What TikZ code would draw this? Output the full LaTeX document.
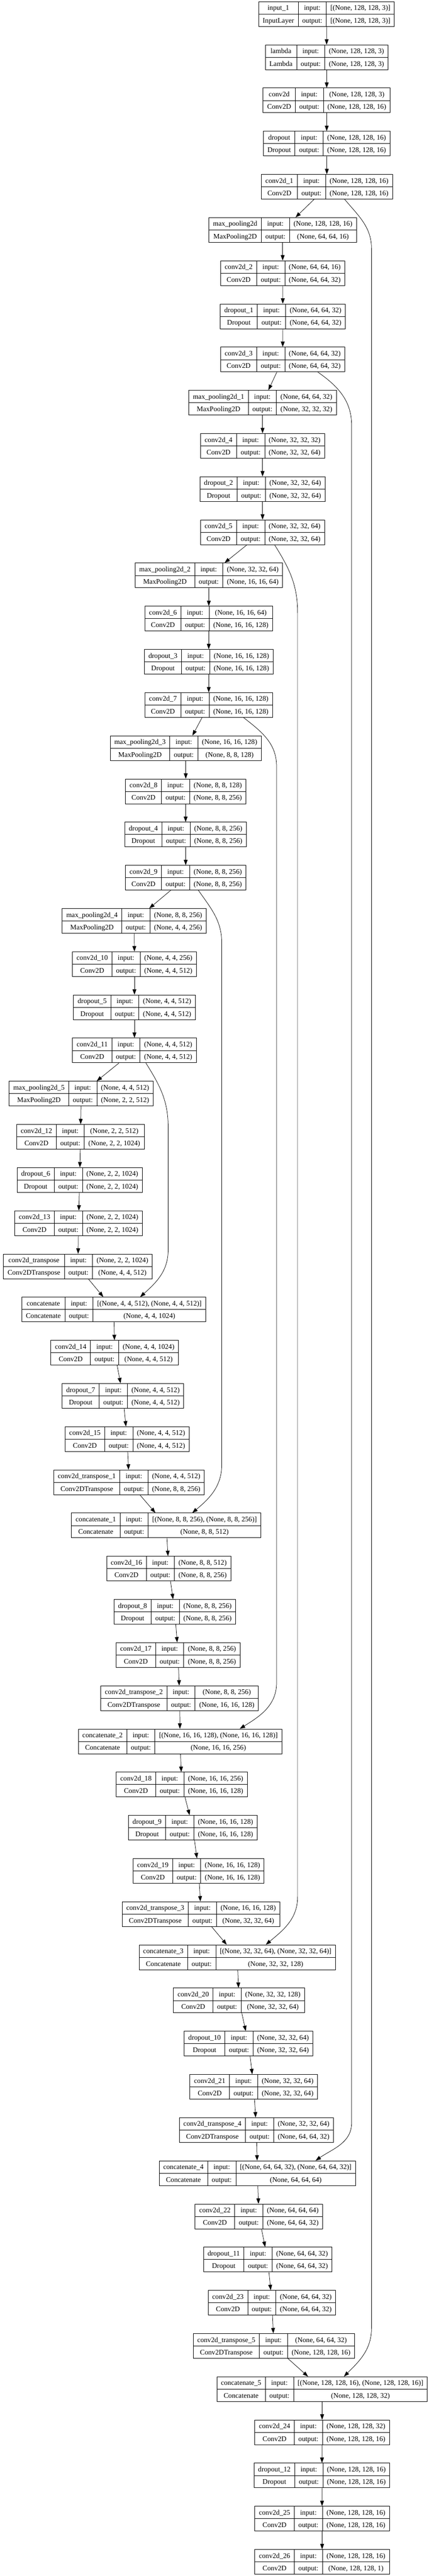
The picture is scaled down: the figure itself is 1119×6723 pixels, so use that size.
\documentclass[tikz,border=0pt]{standalone}
\usepackage{fontspec}
\setmainfont{Liberation Serif}
\usetikzlibrary{arrows.meta}
\setlength{\tabcolsep}{10.7pt}
\setlength{\arrayrulewidth}{1pt}
\newcommand{\lyr}[4]{\begin{tabular}{c|c|c}#1 & input: & #3\\\hline #2 & output: & #4\end{tabular}}

\begin{document}
\begin{tikzpicture}[x=1pt, y=1pt,
    layer/.style = {draw, line width=1.3pt, inner sep=0pt,
      font=\fontsize{18.4}{31.75}\selectfont},
    flow/.style  = {-{Triangle[length=14pt,width=10pt]}, line width=1pt}]
  \useasboundingbox (0,0) rectangle (1119,-6723);

  % encoder
  \node[layer] (in1)  at (852.5,{-36.75-112.7*0})  {\lyr{input\_1}{InputLayer}{[(None, 128, 128, 3)]}{[(None, 128, 128, 3)]}};
  \node[layer] (lam)  at (853,{-36.75-112.7*1})    {\lyr{lambda}{Lambda}{(None, 128, 128, 3)}{(None, 128, 128, 3)}};
  \node[layer] (c0)   at (853,{-36.75-112.7*2})    {\lyr{conv2d}{Conv2D}{(None, 128, 128, 3)}{(None, 128, 128, 16)}};
  \node[layer] (d0)   at (853,{-36.75-112.7*3})    {\lyr{dropout}{Dropout}{(None, 128, 128, 16)}{(None, 128, 128, 16)}};
  \node[layer] (c1)   at (853.5,{-36.75-112.7*4})  {\lyr{conv2d\_1}{Conv2D}{(None, 128, 128, 16)}{(None, 128, 128, 16)}};
  \node[layer] (mp0)  at (738,{-36.75-112.7*5})    {\lyr{max\_pooling2d}{MaxPooling2D}{(None, 128, 128, 16)}{(None, 64, 64, 16)}};
  \node[layer] (c2)   at (738,{-36.75-112.7*6})    {\lyr{conv2d\_2}{Conv2D}{(None, 64, 64, 16)}{(None, 64, 64, 32)}};
  \node[layer] (d1)   at (738.5,{-36.75-112.7*7})  {\lyr{dropout\_1}{Dropout}{(None, 64, 64, 32)}{(None, 64, 64, 32)}};
  \node[layer] (c3)   at (738,{-36.75-112.7*8})    {\lyr{conv2d\_3}{Conv2D}{(None, 64, 64, 32)}{(None, 64, 64, 32)}};
  \node[layer] (mp1)  at (685.5,{-36.75-112.7*9})  {\lyr{max\_pooling2d\_1}{MaxPooling2D}{(None, 64, 64, 32)}{(None, 32, 32, 32)}};
  \node[layer] (c4)   at (685.5,{-36.75-112.7*10}) {\lyr{conv2d\_4}{Conv2D}{(None, 32, 32, 32)}{(None, 32, 32, 64)}};
  \node[layer] (d2)   at (685.5,{-36.75-112.7*11}) {\lyr{dropout\_2}{Dropout}{(None, 32, 32, 64)}{(None, 32, 32, 64)}};
  \node[layer] (c5)   at (685.5,{-36.75-112.7*12}) {\lyr{conv2d\_5}{Conv2D}{(None, 32, 32, 64)}{(None, 32, 32, 64)}};
  \node[layer] (mp2)  at (545.5,{-36.75-112.7*13}) {\lyr{max\_pooling2d\_2}{MaxPooling2D}{(None, 32, 32, 64)}{(None, 16, 16, 64)}};
  \node[layer] (c6)   at (545,{-36.75-112.7*14})   {\lyr{conv2d\_6}{Conv2D}{(None, 16, 16, 64)}{(None, 16, 16, 128)}};
  \node[layer] (d3)   at (545,{-36.75-112.7*15})   {\lyr{dropout\_3}{Dropout}{(None, 16, 16, 128)}{(None, 16, 16, 128)}};
  \node[layer] (c7)   at (545,{-36.75-112.7*16})   {\lyr{conv2d\_7}{Conv2D}{(None, 16, 16, 128)}{(None, 16, 16, 128)}};
  \node[layer] (mp3)  at (485,{-36.75-112.7*17})   {\lyr{max\_pooling2d\_3}{MaxPooling2D}{(None, 16, 16, 128)}{(None, 8, 8, 128)}};
  \node[layer] (c8)   at (485,{-36.75-112.7*18})   {\lyr{conv2d\_8}{Conv2D}{(None, 8, 8, 128)}{(None, 8, 8, 256)}};
  \node[layer] (d4)   at (484.5,{-36.75-112.7*19}) {\lyr{dropout\_4}{Dropout}{(None, 8, 8, 256)}{(None, 8, 8, 256)}};
  \node[layer] (c9)   at (485,{-36.75-112.7*20})   {\lyr{conv2d\_9}{Conv2D}{(None, 8, 8, 256)}{(None, 8, 8, 256)}};
  \node[layer] (mp4)  at (350.5,{-36.75-112.7*21}) {\lyr{max\_pooling2d\_4}{MaxPooling2D}{(None, 8, 8, 256)}{(None, 4, 4, 256)}};
  \node[layer] (c10)  at (351,{-36.75-112.7*22})   {\lyr{conv2d\_10}{Conv2D}{(None, 4, 4, 256)}{(None, 4, 4, 512)}};
  \node[layer] (d5)   at (351,{-36.75-112.7*23})   {\lyr{dropout\_5}{Dropout}{(None, 4, 4, 512)}{(None, 4, 4, 512)}};
  \node[layer] (c11)  at (351,{-36.75-112.7*24})   {\lyr{conv2d\_11}{Conv2D}{(None, 4, 4, 512)}{(None, 4, 4, 512)}};
  \node[layer] (mp5)  at (212,{-36.75-112.7*25})   {\lyr{max\_pooling2d\_5}{MaxPooling2D}{(None, 4, 4, 512)}{(None, 2, 2, 512)}};
  \node[layer] (c12)  at (210,{-36.75-112.7*26})   {\lyr{conv2d\_12}{Conv2D}{(None, 2, 2, 512)}{(None, 2, 2, 1024)}};
  \node[layer] (d6)   at (208,{-36.75-112.7*27})   {\lyr{dropout\_6}{Dropout}{(None, 2, 2, 1024)}{(None, 2, 2, 1024)}};
  \node[layer] (c13)  at (205,{-36.75-112.7*28})   {\lyr{conv2d\_13}{Conv2D}{(None, 2, 2, 1024)}{(None, 2, 2, 1024)}};

  % decoder
  \node[layer] (ct0)  at (203.5,{-36.75-112.7*29}) {\lyr{conv2d\_transpose}{Conv2DTranspose}{(None, 2, 2, 1024)}{(None, 4, 4, 512)}};
  \node[layer] (cat0) at (297,{-36.75-112.7*30})   {\lyr{concatenate}{Concatenate}{[(None, 4, 4, 512), (None, 4, 4, 512)]}{(None, 4, 4, 1024)}};
  \node[layer] (c14)  at (299.5,{-36.75-112.7*31}) {\lyr{conv2d\_14}{Conv2D}{(None, 4, 4, 1024)}{(None, 4, 4, 512)}};
  \node[layer] (d7)   at (321,{-36.75-112.7*32})   {\lyr{dropout\_7}{Dropout}{(None, 4, 4, 512)}{(None, 4, 4, 512)}};
  \node[layer] (c15)  at (332,{-36.75-112.7*33})   {\lyr{conv2d\_15}{Conv2D}{(None, 4, 4, 512)}{(None, 4, 4, 512)}};
  \node[layer] (ct1)  at (337,{-36.75-112.7*34})   {\lyr{conv2d\_transpose\_1}{Conv2DTranspose}{(None, 4, 4, 512)}{(None, 8, 8, 256)}};
  \node[layer] (cat1) at (434,{-36.75-112.7*35})   {\lyr{concatenate\_1}{Concatenate}{[(None, 8, 8, 256), (None, 8, 8, 256)]}{(None, 8, 8, 512)}};
  \node[layer] (c16)  at (440.5,{-36.75-112.7*36}) {\lyr{conv2d\_16}{Conv2D}{(None, 8, 8, 512)}{(None, 8, 8, 256)}};
  \node[layer] (d8)   at (456.5,{-36.75-112.7*37}) {\lyr{dropout\_8}{Dropout}{(None, 8, 8, 256)}{(None, 8, 8, 256)}};
  \node[layer] (c17)  at (465,{-36.75-112.7*38})   {\lyr{conv2d\_17}{Conv2D}{(None, 8, 8, 256)}{(None, 8, 8, 256)}};
  \node[layer] (ct2)  at (469,{-36.75-112.7*39})   {\lyr{conv2d\_transpose\_2}{Conv2DTranspose}{(None, 8, 8, 256)}{(None, 16, 16, 128)}};
  \node[layer] (cat2) at (470,{-36.75-112.7*40})   {\lyr{concatenate\_2}{Concatenate}{[(None, 16, 16, 128), (None, 16, 16, 128)]}{(None, 16, 16, 256)}};
  \node[layer] (c18)  at (474.5,{-36.75-112.7*41}) {\lyr{conv2d\_18}{Conv2D}{(None, 16, 16, 256)}{(None, 16, 16, 128)}};
  \node[layer] (d9)   at (503.5,{-36.75-112.7*42}) {\lyr{dropout\_9}{Dropout}{(None, 16, 16, 128)}{(None, 16, 16, 128)}};
  \node[layer] (c19)  at (518.5,{-36.75-112.7*43}) {\lyr{conv2d\_19}{Conv2D}{(None, 16, 16, 128)}{(None, 16, 16, 128)}};
  \node[layer] (ct3)  at (525,{-36.75-112.7*44})   {\lyr{conv2d\_transpose\_3}{Conv2DTranspose}{(None, 16, 16, 128)}{(None, 32, 32, 64)}};
  \node[layer] (cat3) at (619.5,{-36.75-112.7*45}) {\lyr{concatenate\_3}{Concatenate}{[(None, 32, 32, 64), (None, 32, 32, 64)]}{(None, 32, 32, 128)}};
  \node[layer] (c20)  at (624,{-36.75-112.7*46})   {\lyr{conv2d\_20}{Conv2D}{(None, 32, 32, 128)}{(None, 32, 32, 64)}};
  \node[layer] (d10)  at (649,{-36.75-112.7*47})   {\lyr{dropout\_10}{Dropout}{(None, 32, 32, 64)}{(None, 32, 32, 64)}};
  \node[layer] (c21)  at (662.5,{-36.75-112.7*48}) {\lyr{conv2d\_21}{Conv2D}{(None, 32, 32, 64)}{(None, 32, 32, 64)}};
  \node[layer] (ct4)  at (669.5,{-36.75-112.7*49}) {\lyr{conv2d\_transpose\_4}{Conv2DTranspose}{(None, 32, 32, 64)}{(None, 64, 64, 32)}};
  \node[layer] (cat4) at (672,{-36.75-112.7*50})   {\lyr{concatenate\_4}{Concatenate}{[(None, 64, 64, 32), (None, 64, 64, 32)]}{(None, 64, 64, 64)}};
  \node[layer] (c22)  at (676,{-36.75-112.7*51})   {\lyr{conv2d\_22}{Conv2D}{(None, 64, 64, 64)}{(None, 64, 64, 32)}};
  \node[layer] (d11)  at (699,{-36.75-112.7*52})   {\lyr{dropout\_11}{Dropout}{(None, 64, 64, 32)}{(None, 64, 64, 32)}};
  \node[layer] (c23)  at (710,{-36.75-112.7*53})   {\lyr{conv2d\_23}{Conv2D}{(None, 64, 64, 32)}{(None, 64, 64, 32)}};
  \node[layer] (ct5)  at (715,{-36.75-112.7*54})   {\lyr{conv2d\_transpose\_5}{Conv2DTranspose}{(None, 64, 64, 32)}{(None, 128, 128, 16)}};
  \node[layer] (cat5) at (841,{-36.75-112.7*55})   {\lyr{concatenate\_5}{Concatenate}{[(None, 128, 128, 16), (None, 128, 128, 16)]}{(None, 128, 128, 32)}};
  \node[layer] (c24)  at (841,{-36.75-112.7*56})   {\lyr{conv2d\_24}{Conv2D}{(None, 128, 128, 32)}{(None, 128, 128, 16)}};
  \node[layer] (d12)  at (840.5,{-36.75-112.7*57}) {\lyr{dropout\_12}{Dropout}{(None, 128, 128, 16)}{(None, 128, 128, 16)}};
  \node[layer] (c25)  at (841,{-36.75-112.7*58})   {\lyr{conv2d\_25}{Conv2D}{(None, 128, 128, 16)}{(None, 128, 128, 16)}};
  \node[layer] (c26)  at (841,{-36.75-112.7*59})   {\lyr{conv2d\_26}{Conv2D}{(None, 128, 128, 16)}{(None, 128, 128, 1)}};

  % main chain
  \draw[flow] (in1) -- (lam);
  \draw[flow] (lam) -- (c0);
  \draw[flow] (c0) -- (d0);
  \draw[flow] (d0) -- (c1);
  \draw[flow] (c1) -- (mp0);
  \draw[flow] (mp0) -- (c2);
  \draw[flow] (c2) -- (d1);
  \draw[flow] (d1) -- (c3);
  \draw[flow] (c3) -- (mp1);
  \draw[flow] (mp1) -- (c4);
  \draw[flow] (c4) -- (d2);
  \draw[flow] (d2) -- (c5);
  \draw[flow] (c5) -- (mp2);
  \draw[flow] (mp2) -- (c6);
  \draw[flow] (c6) -- (d3);
  \draw[flow] (d3) -- (c7);
  \draw[flow] (c7) -- (mp3);
  \draw[flow] (mp3) -- (c8);
  \draw[flow] (c8) -- (d4);
  \draw[flow] (d4) -- (c9);
  \draw[flow] (c9) -- (mp4);
  \draw[flow] (mp4) -- (c10);
  \draw[flow] (c10) -- (d5);
  \draw[flow] (d5) -- (c11);
  \draw[flow] (c11) -- (mp5);
  \draw[flow] (mp5) -- (c12);
  \draw[flow] (c12) -- (d6);
  \draw[flow] (d6) -- (c13);
  \draw[flow] (c13) -- (ct0);
  \draw[flow] (ct0) -- (cat0);
  \draw[flow] (cat0) -- (c14);
  \draw[flow] (c14) -- (d7);
  \draw[flow] (d7) -- (c15);
  \draw[flow] (c15) -- (ct1);
  \draw[flow] (ct1) -- (cat1);
  \draw[flow] (cat1) -- (c16);
  \draw[flow] (c16) -- (d8);
  \draw[flow] (d8) -- (c17);
  \draw[flow] (c17) -- (ct2);
  \draw[flow] (ct2) -- (cat2);
  \draw[flow] (cat2) -- (c18);
  \draw[flow] (c18) -- (d9);
  \draw[flow] (d9) -- (c19);
  \draw[flow] (c19) -- (ct3);
  \draw[flow] (ct3) -- (cat3);
  \draw[flow] (cat3) -- (c20);
  \draw[flow] (c20) -- (d10);
  \draw[flow] (d10) -- (c21);
  \draw[flow] (c21) -- (ct4);
  \draw[flow] (ct4) -- (cat4);
  \draw[flow] (cat4) -- (c22);
  \draw[flow] (c22) -- (d11);
  \draw[flow] (d11) -- (c23);
  \draw[flow] (c23) -- (ct5);
  \draw[flow] (ct5) -- (cat5);
  \draw[flow] (cat5) -- (c24);
  \draw[flow] (c24) -- (d12);
  \draw[flow] (d12) -- (c25);
  \draw[flow] (c25) -- (c26);

  % skip connections
  \draw[flow] ([xshift=46.5pt]c1.south) to[out=-50,in=90] (970,-650)
    -- (970,-6075) to[out=-90,in=45] ([xshift=57pt]cat5.north);
  \draw[flow] ([xshift=92pt]c3.south) to[out=-35,in=90] (918,-1110)
    -- (918,-5540) to[out=-90,in=35] ([xshift=152pt]cat4.north);
  \draw[flow] ([xshift=31.5pt]c5.south) to[out=-58,in=90] (777,-1600)
    -- (777,-4950) to[out=-90,in=40] ([xshift=74.5pt]cat3.north);
  \draw[flow] ([xshift=91pt]c7.south) to[out=-38,in=90] (722,-2000)
    -- (722,-4392) to[out=-90,in=32] ([xshift=156pt]cat2.north);
  \draw[flow] ([xshift=33pt]c9.south) to[out=-55,in=90] (579,-2462)
    -- (579,-3822) to[out=-90,in=40] ([xshift=68pt]cat1.north);
  \draw[flow] ([xshift=30pt]c11.south) to[out=-58,in=90] (439,-2942)
    -- (439,-3262) to[out=-90,in=42] ([xshift=69pt]cat0.north);
\end{tikzpicture}
\end{document}
